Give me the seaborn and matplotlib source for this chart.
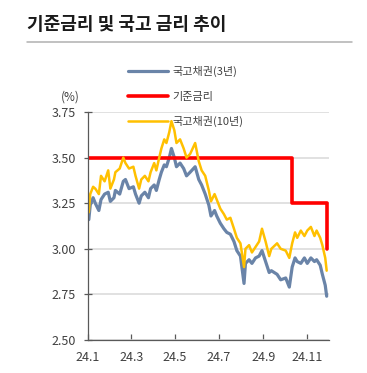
import pandas as pd
import matplotlib.pyplot as plt
import seaborn as sns

# 국고채 금리 (일부 거래일 기준, 그림에서 읽은 값)
dates = ['01-02', '01-04', '01-08', '01-11', '01-16', '01-19', '01-24', '01-29',
         '02-01', '02-06', '02-08', '02-14', '02-19', '02-22', '02-27',
         '03-04', '03-07', '03-12', '03-15', '03-20', '03-25', '03-28',
         '04-02', '04-05', '04-09', '04-12', '04-16', '04-19', '04-23', '04-26', '04-30',
         '05-03', '05-08', '05-13', '05-17', '05-22', '05-29',
         '06-03', '06-07', '06-12', '06-17', '06-20', '06-25', '06-28',
         '07-03', '07-08', '07-12', '07-17', '07-22', '07-26', '07-31',
         '08-05', '08-07', '08-12', '08-16', '08-21', '08-26', '08-30',
         '09-04', '09-09', '09-12', '09-20', '09-25',
         '10-02', '10-07', '10-11', '10-15', '10-18', '10-23', '10-28',
         '11-01', '11-06', '11-11', '11-14', '11-19', '11-22', '11-26', '11-28']
ktb3 = [3.16, 3.24, 3.28, 3.25, 3.21, 3.27, 3.30, 3.31,
        3.26, 3.28, 3.32, 3.30, 3.37, 3.38, 3.33,
        3.34, 3.30, 3.25, 3.29, 3.31, 3.28, 3.33,
        3.35, 3.32, 3.38, 3.42, 3.46, 3.45, 3.50, 3.55, 3.50,
        3.45, 3.47, 3.44, 3.40, 3.42, 3.45,
        3.38, 3.35, 3.30, 3.24, 3.18, 3.21, 3.18,
        3.14, 3.11, 3.09, 3.08, 3.04, 2.99, 2.96,
        2.81, 2.92, 2.94, 2.92, 2.95, 2.96, 2.99,
        2.93, 2.87, 2.88, 2.86, 2.83,
        2.84, 2.79, 2.90, 2.95, 2.93, 2.92, 2.95,
        2.92, 2.95, 2.93, 2.94, 2.91, 2.86, 2.80, 2.74]
ktb10 = [3.20, 3.30, 3.34, 3.33, 3.30, 3.40, 3.37, 3.43,
         3.33, 3.38, 3.42, 3.44, 3.50, 3.47, 3.44,
         3.45, 3.40, 3.33, 3.38, 3.40, 3.37, 3.42,
         3.47, 3.43, 3.50, 3.55, 3.60, 3.58, 3.64, 3.70, 3.65,
         3.58, 3.60, 3.55, 3.50, 3.52, 3.58,
         3.48, 3.43, 3.40, 3.32, 3.26, 3.30, 3.27,
         3.22, 3.19, 3.16, 3.17, 3.11, 3.06, 3.03,
         2.90, 3.00, 3.02, 2.98, 3.01, 3.04, 3.11,
         3.04, 2.96, 3.00, 3.03, 3.00,
         2.99, 2.95, 3.03, 3.09, 3.06, 3.10, 3.07,
         3.10, 3.12, 3.07, 3.10, 3.06, 3.02, 2.95, 2.88]

# 기준금리
base_dates = ['01-01', '10-11', '11-28']
base_rate = [3.50, 3.25, 3.00]

tick_dates = ['01-01', '03-01', '05-01', '07-01', '09-01', '11-01']
tick_labels = ['24.1', '24.3', '24.5', '24.7', '24.9', '24.11']

df = pd.DataFrame({'date': pd.to_datetime(['2024-' + d for d in dates]),
                   '국고채권(3년)': ktb3, '국고채권(10년)': ktb10})
base = pd.DataFrame({'date': pd.to_datetime(['2024-' + d for d in base_dates]),
                     'rate': base_rate})

sns.set_style("white")
plt.rcParams['font.family'] = ['Noto Sans CJK KR', 'DejaVu Sans']

fig = plt.figure(figsize=(3.67, 3.73), dpi=100)
ax = fig.add_axes([0.240, 0.0885, 0.656, 0.6112])

sns.lineplot(data=df, x='date', y='국고채권(3년)', color='#6A84A8', lw=2.3,
             label='국고채권(3년)', ax=ax)
sns.lineplot(data=base, x='date', y='rate', color='#FF0000', lw=2.6,
             drawstyle='steps-post', label='기준금리', ax=ax)
sns.lineplot(data=df, x='date', y='국고채권(10년)', color='#FFC000', lw=1.8,
             label='국고채권(10년)', ax=ax)

ax.set_xlim(pd.Timestamp('2024-01-01'), pd.Timestamp('2024-12-01'))
ax.set_ylim(2.5, 3.75)
ax.set_yticks([2.5, 2.75, 3.0, 3.25, 3.5, 3.75])
ax.set_yticklabels(['2.50', '2.75', '3.00', '3.25', '3.50', '3.75'])
ax.set_xticks(pd.to_datetime(['2024-' + d for d in tick_dates]))
ax.set_xticklabels(tick_labels)
ax.set_xlabel('')
ax.set_ylabel('')
ax.grid(axis='y', color='#D9D9D9', lw=1.1)
ax.set_axisbelow(True)
for s in ['top', 'right']:
    ax.spines[s].set_visible(False)
for s in ['left', 'bottom']:
    ax.spines[s].set_color('#595959')
    ax.spines[s].set_linewidth(0.9)
ax.tick_params(axis='y', direction='inout', length=6, width=0.9, color='#595959',
               labelsize=9, labelcolor='#404040', pad=6, left=True)
ax.tick_params(axis='x', direction='in', length=4, width=0.9, color='#595959',
               labelsize=9, labelcolor='#404040', pad=8, bottom=True)

leg = ax.legend(loc='upper left', bbox_to_anchor=(128 / 367, 1 - 66 / 373),
                bbox_transform=fig.transFigure, frameon=False, fontsize=8,
                handlelength=3.6, handletextpad=0.4, labelspacing=1.3,
                borderpad=0, borderaxespad=0)
for t in leg.get_texts():
    t.set_color('#404040')

fig.text(70 / 367, 1 - 97 / 373, '(%)', ha='center', va='center', fontsize=8.5, color='#404040')
fig.text(27 / 367, 1 - 25 / 373, '기준금리 및 국고 금리 추이', ha='left', va='center',
         fontsize=13, fontweight='bold', color='#1A1A1A')
fig.add_artist(plt.Line2D([27 / 367, 352 / 367], [1 - 42 / 373, 1 - 42 / 373],
                          color='#B0B0B0', lw=1.1, transform=fig.transFigure))

fig.savefig('out.png', dpi=100)
